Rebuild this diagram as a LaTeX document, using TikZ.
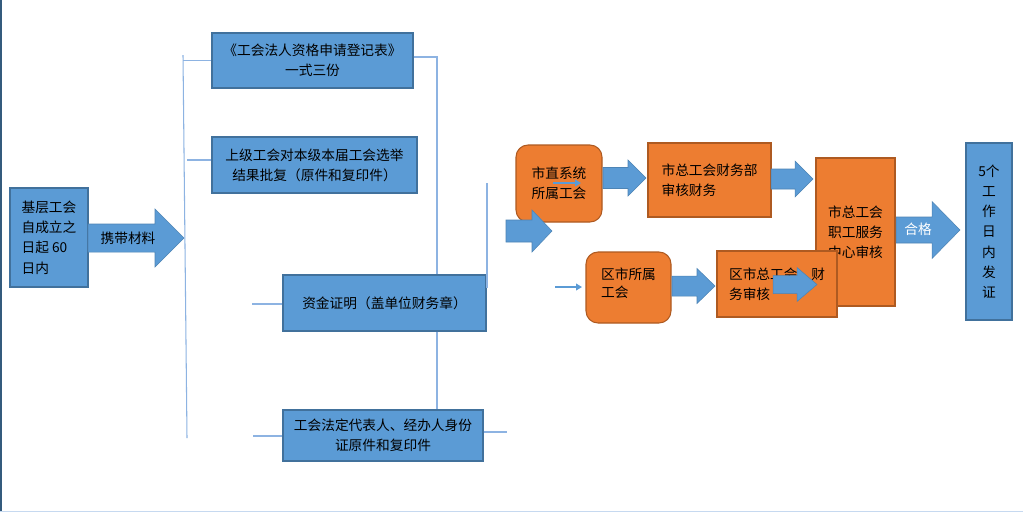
\documentclass[tikz,border=0pt]{standalone}
\usepackage{fontspec}
\newfontfamily\cjk{Noto Sans CJK SC}
\usetikzlibrary{arrows.meta}

\definecolor{boxblue}{HTML}{5B9BD5}
\definecolor{edgeblue}{HTML}{41719C}
\definecolor{boxorange}{HTML}{ED7D31}
\definecolor{edgeorange}{HTML}{AE5A21}
\definecolor{linkblue}{HTML}{8DB3E2}

% fat arrow: tail x, neck x, tip x, centre y, half body, half head
\newcommand\fatarrow[6]{%
  \filldraw[fatarrow] (#1,#4-#5) -- (#2,#4-#5) -- (#2,#4-#6) -- (#3,#4)
    -- (#2,#4+#6) -- (#2,#4+#5) -- (#1,#4+#5) -- cycle;}

\begin{document}
\begin{tikzpicture}[
  x=0.02cm, y=-0.02cm,
  font=\cjk\fontsize{7.8}{11.5}\selectfont,
  bluebox/.style={rectangle, draw=edgeblue, fill=boxblue, line width=0.8pt, inner sep=1pt, align=center},
  orangebox/.style={rectangle, draw=edgeorange, fill=boxorange, line width=0.6pt, inner sep=1pt, align=left},
  roundbox/.style={orangebox, rounded corners=0.24cm},
  fatarrow/.style={fill=boxblue, draw=boxblue!85!black, line width=0.3pt},
  link/.style={draw=linkblue, line width=0.6pt},
  thinarrow/.style={draw=boxblue, line width=0.8pt, -{Triangle[length=3.4pt,width=3.8pt]}}
]
\useasboundingbox (0,0) rectangle (1023,512);
\fill[white] (0,0) rectangle (1023,512);
\fill[edgeblue!80!black] (0,0) rectangle (2,512);
\fill[linkblue!50] (0,510.5) rectangle (1023,512);

% left column
\node[bluebox, align=left, minimum width=1.56cm, minimum height=1.98cm] (start) at (49,237.5) {基层工会\\自成立之\\日起 60\\日内};
\fatarrow{88}{155}{184}{238}{14}{29}
\node (carry) at (128,238) {携带材料};

% materials
\node[bluebox, minimum width=4.02cm, minimum height=1.10cm] (form) at (312.5,60.5) {《工会法人资格申请登记表》\\一式三份};
\node[bluebox, minimum width=4.10cm, minimum height=1.12cm] (reply) at (314.5,165) {上级工会对本级本届工会选举\\结果批复（原件和复印件）};
\node[bluebox, minimum width=4.06cm, minimum height=1.12cm] (fund) at (384.5,303) {资金证明（盖单位财务章）};
\node[bluebox, minimum width=4.00cm, minimum height=1.02cm] (idcard) at (383,435.5) {工会法定代表人、经办人身份\\证原件和复印件};

\coordinate (lt) at (183,55);
\coordinate (lb) at (187,438);
\coordinate (t2) at (187,160);
\coordinate (t3) at (252,304);
\coordinate (t4) at (253,436);
\coordinate (rt) at (437,57);
\coordinate (r2a) at (487,183);
\coordinate (r2b) at (487,288);
\coordinate (r4) at (507,432);

\draw[link] (lt) -- (lb);
\draw[link] (lt |- form.west) -- (form.west);
\draw[link] (t2) -- (reply.west |- t2);
\draw[link] (t3) -- (fund.west |- t3);
\draw[link] (t4) -- (idcard.west |- t4);
\draw[link] (form.east |- rt) -- (rt) -- (rt |- fund.north);
\draw[link] (fund.south -| rt) -- (idcard.north -| rt);
\draw[link] (r2a) -- (r2b);
\draw[link] (idcard.east |- r4) -- (r4);

% review flow
\node[roundbox, minimum width=1.72cm, minimum height=1.54cm] (city) at (559,183.5) {市直系统\\所属工会};
\coordinate (cityin) at (553,183);
\coordinate (cityout) at (581,183);
\draw[thinarrow, line width=1pt] (cityin) -- (cityout);
\fatarrow{506}{532}{552}{231}{11}{21}
\fatarrow{603}{628}{646}{178}{10.5}{18}
\node[orangebox, minimum width=2.46cm, minimum height=1.48cm] (finance) at (709.5,180) {市总工会财务部\\审核财务};
\fatarrow{771}{795}{813}{179}{10}{18}

\coordinate (distin) at (555,287);
\draw[thinarrow] (distin) -- (582,287);
\node[roundbox, minimum width=1.70cm, minimum height=1.42cm] (district) at (628.5,287.5) {\raisebox{5pt}{\shortstack[l]{区市所属\\工会}}};
\fatarrow{672}{697}{715}{286}{10}{17.5}

\node[orangebox, minimum width=1.58cm, minimum height=2.96cm] (center) at (855.5,232) {市总工会\\职工服务\\中心审核};
\node[orangebox, minimum width=2.40cm, minimum height=1.32cm] (dfinance) at (777,284) {区市总工会\hphantom{会}财\\务审核};
\fatarrow{773}{797}{817}{284.5}{9}{17}

\fatarrow{896}{932}{960}{230}{13}{28.5}
\node[white] (pass) at (918,229) {合格};
\node[bluebox, minimum width=0.92cm, minimum height=3.54cm] (issue) at (989,231.5) {5个\\工\\作\\日\\内\\发\\证};
\end{tikzpicture}
\end{document}
